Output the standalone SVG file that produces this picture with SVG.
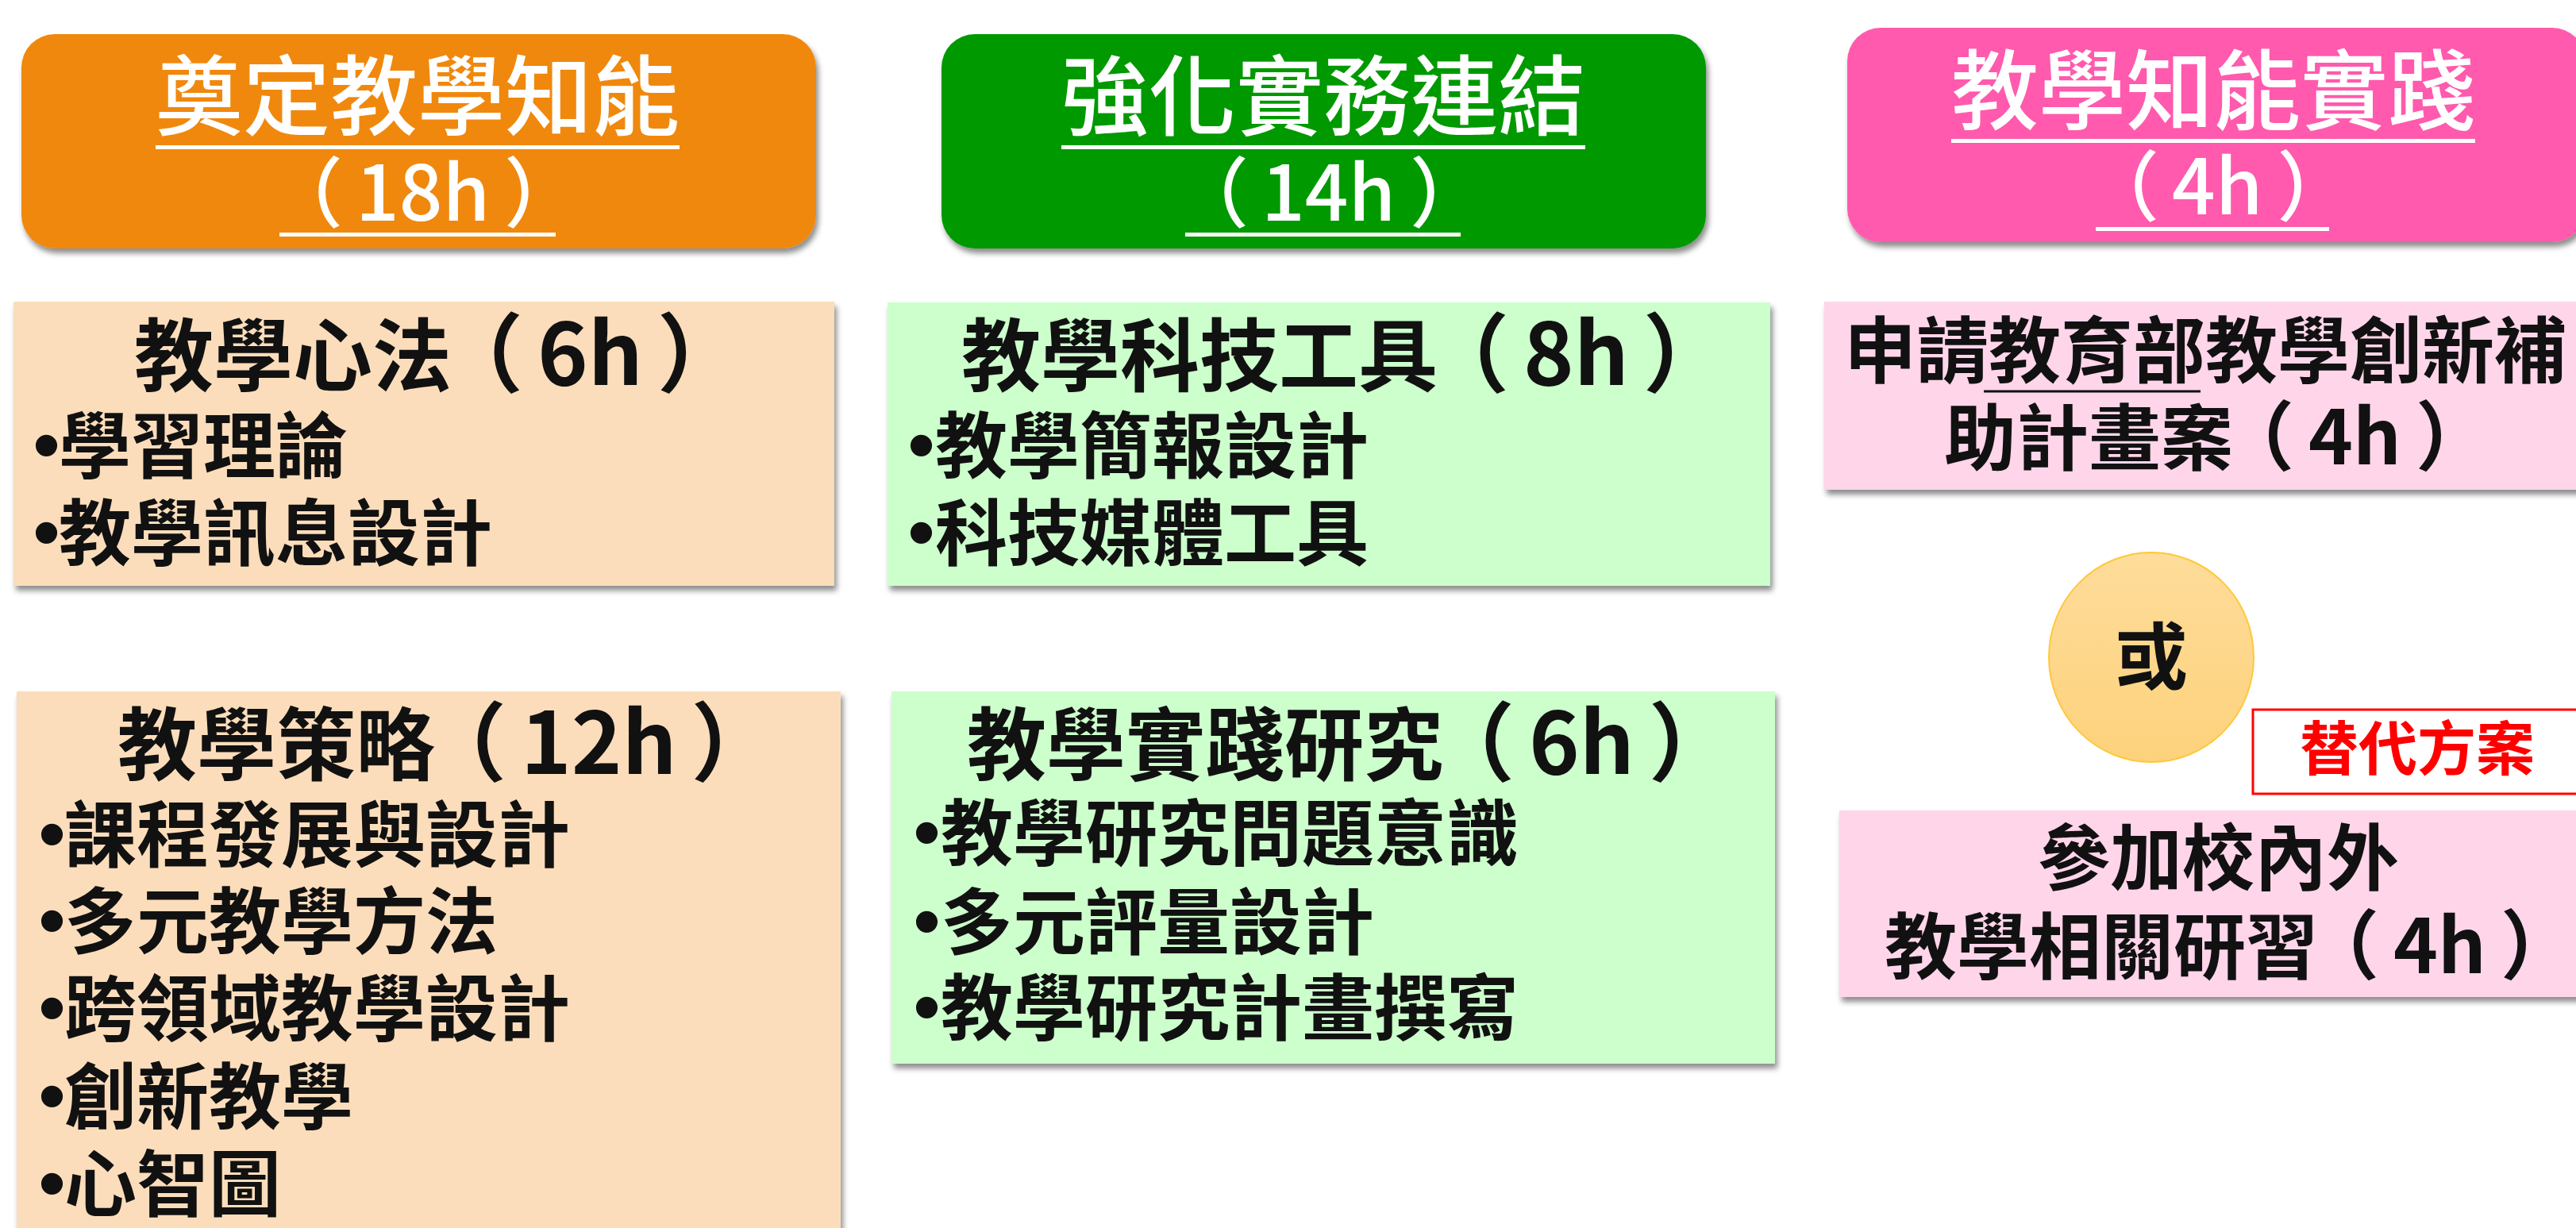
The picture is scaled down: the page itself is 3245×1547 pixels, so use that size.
<svg xmlns="http://www.w3.org/2000/svg" width="3245" height="1547" viewBox="0 0 3245 1547">
<defs>
<filter id="sh" x="-5%" y="-5%" width="115%" height="125%">
<feDropShadow dx="3" dy="6" stdDeviation="3.5" flood-color="#000" flood-opacity="0.45"/>
</filter>
<linearGradient id="gOr" x1="0" y1="0" x2="0" y2="1">
<stop offset="0" stop-color="#FEDC9A"/>
<stop offset="1" stop-color="#FDD27C"/>
</linearGradient>
<style>
text{font-family:"Noto Sans CJK TC","Noto Sans CJK SC",sans-serif;}
.hd{fill:#fff;font-size:110px;font-weight:500;text-anchor:middle;}
.hd2{fill:#fff;font-size:96px;font-weight:500;}
.ul{stroke:#fff;stroke-width:5;}
.bt{fill:#111;font-size:100px;font-weight:bold;}
.lat{font-size:108px;}
.bl{fill:#111;font-size:91px;font-weight:bold;}
.dot{font-family:"Liberation Sans",sans-serif;font-size:100px;font-weight:normal;}
.rt{fill:#111;font-size:91px;font-weight:bold;}
.lat2{font-size:95px;}
</style>
</defs>
<rect width="3245" height="1547" fill="#fff"/>

<g id="hdr-orange">
<rect x="27" y="43" width="1001" height="270" rx="42" fill="#F0880E" filter="url(#sh)"/>
<text class="hd" x="526" y="162">奠定教學知能</text>
<line class="ul" x1="196" y1="185.5" x2="856" y2="185.5"/>
<text class="hd2" x="352" y="278"><tspan dx="-16">（</tspan><tspan dx="16">18h</tspan><tspan dx="18">）</tspan></text>
<line class="ul" x1="352" y1="295.5" x2="700" y2="295.5"/>
</g>

<g id="hdr-green">
<rect x="1186" y="43" width="963" height="270" rx="42" fill="#009900" filter="url(#sh)"/>
<text class="hd" x="1667" y="162">強化實務連結</text>
<line class="ul" x1="1337" y1="185.5" x2="1997" y2="185.5"/>
<text class="hd2" x="1493" y="278"><tspan dx="-16">（</tspan><tspan dx="16">14h</tspan><tspan dx="18">）</tspan></text>
<line class="ul" x1="1493" y1="295.5" x2="1840" y2="295.5"/>
</g>

<g id="hdr-pink">
<rect x="2327" y="35" width="930" height="270" rx="42" fill="#FF5AAD" filter="url(#sh)"/>
<text class="hd" x="2788" y="155">教學知能實踐</text>
<line class="ul" x1="2458" y1="177.5" x2="3118" y2="177.5"/>
<text class="hd2" x="2640" y="270"><tspan dx="-16">（</tspan><tspan dx="16">4h</tspan><tspan dx="18">）</tspan></text>
<line class="ul" x1="2640" y1="288.5" x2="2934" y2="288.5"/>
</g>

<g id="box-xinfa">
<rect x="17" y="380" width="1034" height="358" fill="#FCDDBB" filter="url(#sh)"/>
<text class="bt" x="169" y="485">教學心法<tspan class="lat" dx="-18">（</tspan><tspan class="lat" dx="18">6h</tspan><tspan class="lat" dx="18">）</tspan></text>
<text class="bl" y="595"><tspan class="dot" x="41">•</tspan><tspan x="74">學習理論</tspan></text>
<text class="bl" y="705"><tspan class="dot" x="41">•</tspan><tspan x="74">教學訊息設計</tspan></text>
</g>

<g id="box-keji">
<rect x="1118" y="381" width="1112" height="357" fill="#CCFFCC" filter="url(#sh)"/>
<text class="bt" x="1211" y="485">教學科技工具<tspan class="lat" dx="-18">（</tspan><tspan class="lat" dx="18">8h</tspan><tspan class="lat" dx="18">）</tspan></text>
<text class="bl" y="595"><tspan class="dot" x="1143">•</tspan><tspan x="1178">教學簡報設計</tspan></text>
<text class="bl" y="705"><tspan class="dot" x="1143">•</tspan><tspan x="1178">科技媒體工具</tspan></text>
</g>

<g id="box-celue">
<rect x="21" y="871" width="1038" height="700" fill="#FCDDBB" filter="url(#sh)"/>
<text class="bt" x="148" y="975">教學策略<tspan class="lat" dx="-18">（</tspan><tspan class="lat" dx="18">12h</tspan><tspan class="lat" dx="18">）</tspan></text>
<text class="bl" y="1085"><tspan class="dot" x="48">•</tspan><tspan x="81">課程發展與設計</tspan></text>
<text class="bl" y="1194"><tspan class="dot" x="48">•</tspan><tspan x="81">多元教學方法</tspan></text>
<text class="bl" y="1304"><tspan class="dot" x="48">•</tspan><tspan x="81">跨領域教學設計</tspan></text>
<text class="bl" y="1415"><tspan class="dot" x="48">•</tspan><tspan x="81">創新教學</tspan></text>
<text class="bl" y="1525"><tspan class="dot" x="48">•</tspan><tspan x="81">心智圖</tspan></text>
</g>

<g id="box-yanjiu">
<rect x="1123" y="871" width="1113" height="469" fill="#CCFFCC" filter="url(#sh)"/>
<text class="bt" x="1218" y="975">教學實踐研究<tspan class="lat" dx="-18">（</tspan><tspan class="lat" dx="18">6h</tspan><tspan class="lat" dx="18">）</tspan></text>
<text class="bl" y="1083"><tspan class="dot" x="1150">•</tspan><tspan x="1185">教學研究問題意識</tspan></text>
<text class="bl" y="1195"><tspan class="dot" x="1150">•</tspan><tspan x="1185">多元評量設計</tspan></text>
<text class="bl" y="1303"><tspan class="dot" x="1150">•</tspan><tspan x="1185">教學研究計畫撰寫</tspan></text>
</g>

<g id="box-jihua">
<rect x="2298" y="380" width="1000" height="237" fill="#FFD5EA" filter="url(#sh)"/>
<text class="rt" x="2323" y="475">申請教育部教學創新補</text>
<line x1="2499" y1="493" x2="2772" y2="493" stroke="#111" stroke-width="3"/>
<text class="rt" x="2449" y="585">助計畫案<tspan class="lat2" dx="-18">（</tspan><tspan class="lat2" dx="18">4h</tspan><tspan class="lat2" dx="18">）</tspan></text>
</g>

<g id="or-node">
<ellipse cx="2710" cy="828" rx="129" ry="132" fill="url(#gOr)" stroke="#FFC83A" stroke-width="2"/>
<text x="2710" y="861" font-size="92" font-weight="bold" fill="#111" text-anchor="middle">或</text>
</g>

<g id="alt-label">
<rect x="2838" y="894" width="500" height="106" fill="#fff" stroke="#FF0000" stroke-width="3"/>
<text x="2897" y="970" font-size="74" font-weight="bold" fill="#FF0000">替代方案</text>
</g>

<g id="box-yanxi">
<rect x="2317" y="1021" width="1000" height="235" fill="#FFD5EA" filter="url(#sh)"/>
<text class="rt" x="2567" y="1114">參加校內外</text>
<text class="rt" x="2374" y="1226">教學相關研習<tspan class="lat2" dx="-18">（</tspan><tspan class="lat2" dx="18">4h</tspan><tspan class="lat2" dx="18">）</tspan></text>
</g>

<g id="connectors"></g>
</svg>
